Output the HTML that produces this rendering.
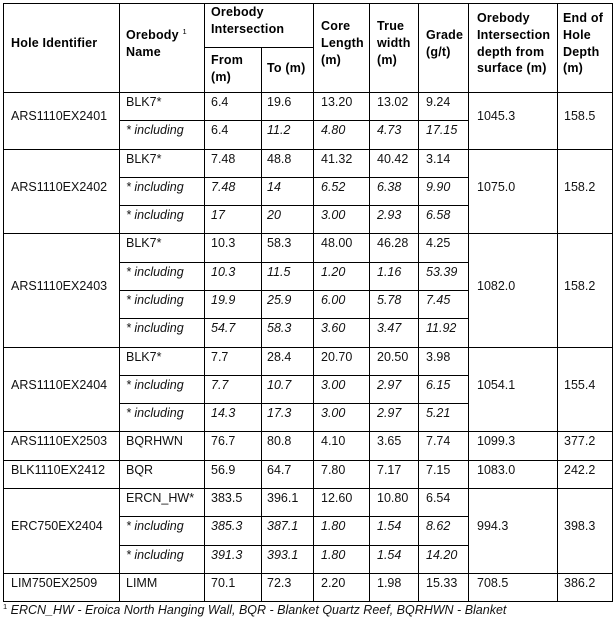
<!DOCTYPE html>
<html>
<head>
<meta charset="utf-8">
<style>
  html, body { margin:0; padding:0; background:#fff; }
  body { width:615px; height:618px; position:relative; overflow:hidden;
         font-family:"Liberation Sans", Arial, sans-serif; color:#111; }
  .h { position:absolute; height:1px; background:#000; }
  .v { position:absolute; width:1px; background:#000; }
  .c { position:absolute; display:flex; align-items:center; box-sizing:border-box;
       padding-bottom:8px; white-space:nowrap; font-size:12.5px; line-height:16.7px; }
  .hd { font-weight:bold; color:#000; letter-spacing:0.2px; }
  .i { font-style:italic; }
  sup.s { font-size:7.5px; vertical-align:5px; line-height:0; font-weight:normal; }
  .fn { position:absolute; left:3px; top:602px; font-size:12.5px; line-height:16.7px;
        font-style:italic; white-space:nowrap; color:#111; }
</style>
</head>
<body>

<!-- Horizontal lines -->
<div class="h" style="left:3px;top:3px;width:610px"></div>
<div class="h" style="left:204px;top:47px;width:110px"></div>
<div class="h" style="left:3px;top:92px;width:610px"></div>
<!-- row boundaries -->
<div class="h" style="left:119px;top:120px;width:350px"></div>
<div class="h" style="left:3px;top:149px;width:610px"></div>
<div class="h" style="left:119px;top:177px;width:350px"></div>
<div class="h" style="left:119px;top:205px;width:350px"></div>
<div class="h" style="left:3px;top:233px;width:610px"></div>
<div class="h" style="left:119px;top:262px;width:350px"></div>
<div class="h" style="left:119px;top:290px;width:350px"></div>
<div class="h" style="left:119px;top:318px;width:350px"></div>
<div class="h" style="left:3px;top:347px;width:610px"></div>
<div class="h" style="left:119px;top:375px;width:350px"></div>
<div class="h" style="left:119px;top:403px;width:350px"></div>
<div class="h" style="left:3px;top:431px;width:610px"></div>
<div class="h" style="left:3px;top:460px;width:610px"></div>
<div class="h" style="left:3px;top:488px;width:610px"></div>
<div class="h" style="left:119px;top:516px;width:350px"></div>
<div class="h" style="left:119px;top:545px;width:350px"></div>
<div class="h" style="left:3px;top:573px;width:610px"></div>
<div class="h" style="left:3px;top:601px;width:610px"></div>

<!-- Vertical lines -->
<div class="v" style="left:3px;top:3px;height:599px"></div>
<div class="v" style="left:119px;top:3px;height:599px"></div>
<div class="v" style="left:204px;top:3px;height:599px"></div>
<div class="v" style="left:261px;top:47px;height:555px"></div>
<div class="v" style="left:313px;top:3px;height:599px"></div>
<div class="v" style="left:369px;top:3px;height:599px"></div>
<div class="v" style="left:418px;top:3px;height:599px"></div>
<div class="v" style="left:468px;top:3px;height:599px"></div>
<div class="v" style="left:557px;top:3px;height:599px"></div>
<div class="v" style="left:612px;top:3px;height:599px"></div>

<!-- Header -->
<div class="c hd" style="left:11px;top:3px;height:89px">Hole Identifier</div>
<div class="c hd" style="left:126px;top:3px;height:89px"><div>Orebody <sup class="s">1</sup><br>Name</div></div>
<div class="c hd" style="left:211px;top:3px;height:44px"><div>Orebody<br>Intersection</div></div>
<div class="c hd" style="left:211px;top:47px;height:45px;padding-bottom:2px"><div>From<br>(m)</div></div>
<div class="c hd" style="left:267px;top:47px;height:45px;padding-bottom:2px">To (m)</div>
<div class="c hd" style="left:321px;top:3px;height:89px"><div>Core<br>Length<br>(m)</div></div>
<div class="c hd" style="left:377px;top:3px;height:89px"><div>True<br>width<br>(m)</div></div>
<div class="c hd" style="left:426px;top:3px;height:89px"><div>Grade<br>(g/t)</div></div>
<div class="c hd" style="left:477px;top:3px;height:89px"><div>Orebody<br>Intersection<br>depth from<br>surface (m)</div></div>
<div class="c hd" style="left:563px;top:3px;height:89px"><div>End of<br>Hole<br>Depth<br>(m)</div></div>

<!-- Group 1 -->
<div class="c" style="left:11px;top:92px;height:57px">ARS1110EX2401</div>
<div class="c" style="left:477px;top:92px;height:57px">1045.3</div>
<div class="c" style="left:564px;top:92px;height:57px">158.5</div>
<div class="c" style="left:126px;top:92px;height:28px">BLK7*</div>
<div class="c" style="left:211px;top:92px;height:28px">6.4</div>
<div class="c" style="left:267px;top:92px;height:28px">19.6</div>
<div class="c" style="left:321px;top:92px;height:28px">13.20</div>
<div class="c" style="left:377px;top:92px;height:28px">13.02</div>
<div class="c" style="left:426px;top:92px;height:28px">9.24</div>
<div class="c i" style="left:126px;top:120px;height:29px">* including</div>
<div class="c" style="left:211px;top:120px;height:29px">6.4</div>
<div class="c i" style="left:267px;top:120px;height:29px">11.2</div>
<div class="c i" style="left:321px;top:120px;height:29px">4.80</div>
<div class="c i" style="left:377px;top:120px;height:29px">4.73</div>
<div class="c i" style="left:426px;top:120px;height:29px">17.15</div>

<!-- Group 2 -->
<div class="c" style="left:11px;top:149px;height:84px">ARS1110EX2402</div>
<div class="c" style="left:477px;top:149px;height:84px">1075.0</div>
<div class="c" style="left:564px;top:149px;height:84px">158.2</div>
<div class="c" style="left:126px;top:149px;height:28px">BLK7*</div>
<div class="c" style="left:211px;top:149px;height:28px">7.48</div>
<div class="c" style="left:267px;top:149px;height:28px">48.8</div>
<div class="c" style="left:321px;top:149px;height:28px">41.32</div>
<div class="c" style="left:377px;top:149px;height:28px">40.42</div>
<div class="c" style="left:426px;top:149px;height:28px">3.14</div>
<div class="c i" style="left:126px;top:177px;height:28px">* including</div>
<div class="c i" style="left:211px;top:177px;height:28px">7.48</div>
<div class="c i" style="left:267px;top:177px;height:28px">14</div>
<div class="c i" style="left:321px;top:177px;height:28px">6.52</div>
<div class="c i" style="left:377px;top:177px;height:28px">6.38</div>
<div class="c i" style="left:426px;top:177px;height:28px">9.90</div>
<div class="c i" style="left:126px;top:205px;height:28px">* including</div>
<div class="c i" style="left:211px;top:205px;height:28px">17</div>
<div class="c i" style="left:267px;top:205px;height:28px">20</div>
<div class="c i" style="left:321px;top:205px;height:28px">3.00</div>
<div class="c i" style="left:377px;top:205px;height:28px">2.93</div>
<div class="c i" style="left:426px;top:205px;height:28px">6.58</div>

<!-- Group 3 -->
<div class="c" style="left:11px;top:233px;height:114px">ARS1110EX2403</div>
<div class="c" style="left:477px;top:233px;height:114px">1082.0</div>
<div class="c" style="left:564px;top:233px;height:114px">158.2</div>
<div class="c" style="left:126px;top:233px;height:29px">BLK7*</div>
<div class="c" style="left:211px;top:233px;height:29px">10.3</div>
<div class="c" style="left:267px;top:233px;height:29px">58.3</div>
<div class="c" style="left:321px;top:233px;height:29px">48.00</div>
<div class="c" style="left:377px;top:233px;height:29px">46.28</div>
<div class="c" style="left:426px;top:233px;height:29px">4.25</div>
<div class="c i" style="left:126px;top:262px;height:28px">* including</div>
<div class="c i" style="left:211px;top:262px;height:28px">10.3</div>
<div class="c i" style="left:267px;top:262px;height:28px">11.5</div>
<div class="c i" style="left:321px;top:262px;height:28px">1.20</div>
<div class="c i" style="left:377px;top:262px;height:28px">1.16</div>
<div class="c i" style="left:426px;top:262px;height:28px">53.39</div>
<div class="c i" style="left:126px;top:290px;height:28px">* including</div>
<div class="c i" style="left:211px;top:290px;height:28px">19.9</div>
<div class="c i" style="left:267px;top:290px;height:28px">25.9</div>
<div class="c i" style="left:321px;top:290px;height:28px">6.00</div>
<div class="c i" style="left:377px;top:290px;height:28px">5.78</div>
<div class="c i" style="left:426px;top:290px;height:28px">7.45</div>
<div class="c i" style="left:126px;top:318px;height:29px">* including</div>
<div class="c i" style="left:211px;top:318px;height:29px">54.7</div>
<div class="c i" style="left:267px;top:318px;height:29px">58.3</div>
<div class="c i" style="left:321px;top:318px;height:29px">3.60</div>
<div class="c i" style="left:377px;top:318px;height:29px">3.47</div>
<div class="c i" style="left:426px;top:318px;height:29px">11.92</div>

<!-- Group 4 -->
<div class="c" style="left:11px;top:347px;height:84px">ARS1110EX2404</div>
<div class="c" style="left:477px;top:347px;height:84px">1054.1</div>
<div class="c" style="left:564px;top:347px;height:84px">155.4</div>
<div class="c" style="left:126px;top:347px;height:28px">BLK7*</div>
<div class="c" style="left:211px;top:347px;height:28px">7.7</div>
<div class="c" style="left:267px;top:347px;height:28px">28.4</div>
<div class="c" style="left:321px;top:347px;height:28px">20.70</div>
<div class="c" style="left:377px;top:347px;height:28px">20.50</div>
<div class="c" style="left:426px;top:347px;height:28px">3.98</div>
<div class="c i" style="left:126px;top:375px;height:28px">* including</div>
<div class="c i" style="left:211px;top:375px;height:28px">7.7</div>
<div class="c i" style="left:267px;top:375px;height:28px">10.7</div>
<div class="c i" style="left:321px;top:375px;height:28px">3.00</div>
<div class="c i" style="left:377px;top:375px;height:28px">2.97</div>
<div class="c i" style="left:426px;top:375px;height:28px">6.15</div>
<div class="c i" style="left:126px;top:403px;height:28px">* including</div>
<div class="c i" style="left:211px;top:403px;height:28px">14.3</div>
<div class="c i" style="left:267px;top:403px;height:28px">17.3</div>
<div class="c i" style="left:321px;top:403px;height:28px">3.00</div>
<div class="c i" style="left:377px;top:403px;height:28px">2.97</div>
<div class="c i" style="left:426px;top:403px;height:28px">5.21</div>

<!-- Group 5 -->
<div class="c" style="left:11px;top:431px;height:29px">ARS1110EX2503</div>
<div class="c" style="left:126px;top:431px;height:29px">BQRHWN</div>
<div class="c" style="left:211px;top:431px;height:29px">76.7</div>
<div class="c" style="left:267px;top:431px;height:29px">80.8</div>
<div class="c" style="left:321px;top:431px;height:29px">4.10</div>
<div class="c" style="left:377px;top:431px;height:29px">3.65</div>
<div class="c" style="left:426px;top:431px;height:29px">7.74</div>
<div class="c" style="left:477px;top:431px;height:29px">1099.3</div>
<div class="c" style="left:564px;top:431px;height:29px">377.2</div>

<!-- Group 6 -->
<div class="c" style="left:11px;top:460px;height:28px">BLK1110EX2412</div>
<div class="c" style="left:126px;top:460px;height:28px">BQR</div>
<div class="c" style="left:211px;top:460px;height:28px">56.9</div>
<div class="c" style="left:267px;top:460px;height:28px">64.7</div>
<div class="c" style="left:321px;top:460px;height:28px">7.80</div>
<div class="c" style="left:377px;top:460px;height:28px">7.17</div>
<div class="c" style="left:426px;top:460px;height:28px">7.15</div>
<div class="c" style="left:477px;top:460px;height:28px">1083.0</div>
<div class="c" style="left:564px;top:460px;height:28px">242.2</div>

<!-- Group 7 -->
<div class="c" style="left:11px;top:488px;height:85px">ERC750EX2404</div>
<div class="c" style="left:477px;top:488px;height:85px">994.3</div>
<div class="c" style="left:564px;top:488px;height:85px">398.3</div>
<div class="c" style="left:126px;top:488px;height:28px">ERCN_HW*</div>
<div class="c" style="left:211px;top:488px;height:28px">383.5</div>
<div class="c" style="left:267px;top:488px;height:28px">396.1</div>
<div class="c" style="left:321px;top:488px;height:28px">12.60</div>
<div class="c" style="left:377px;top:488px;height:28px">10.80</div>
<div class="c" style="left:426px;top:488px;height:28px">6.54</div>
<div class="c i" style="left:126px;top:516px;height:29px">* including</div>
<div class="c i" style="left:211px;top:516px;height:29px">385.3</div>
<div class="c i" style="left:267px;top:516px;height:29px">387.1</div>
<div class="c i" style="left:321px;top:516px;height:29px">1.80</div>
<div class="c i" style="left:377px;top:516px;height:29px">1.54</div>
<div class="c i" style="left:426px;top:516px;height:29px">8.62</div>
<div class="c i" style="left:126px;top:545px;height:28px">* including</div>
<div class="c i" style="left:211px;top:545px;height:28px">391.3</div>
<div class="c i" style="left:267px;top:545px;height:28px">393.1</div>
<div class="c i" style="left:321px;top:545px;height:28px">1.80</div>
<div class="c i" style="left:377px;top:545px;height:28px">1.54</div>
<div class="c i" style="left:426px;top:545px;height:28px">14.20</div>

<!-- Group 8 -->
<div class="c" style="left:11px;top:573px;height:28px">LIM750EX2509</div>
<div class="c" style="left:126px;top:573px;height:28px">LIMM</div>
<div class="c" style="left:211px;top:573px;height:28px">70.1</div>
<div class="c" style="left:267px;top:573px;height:28px">72.3</div>
<div class="c" style="left:321px;top:573px;height:28px">2.20</div>
<div class="c" style="left:377px;top:573px;height:28px">1.98</div>
<div class="c" style="left:426px;top:573px;height:28px">15.33</div>
<div class="c" style="left:477px;top:573px;height:28px">708.5</div>
<div class="c" style="left:564px;top:573px;height:28px">386.2</div>

<!-- Footnote -->
<div class="fn"><sup class="s" style="font-style:normal">1</sup> ERCN_HW - Eroica North Hanging Wall, BQR - Blanket Quartz Reef, BQRHWN - Blanket</div>

</body>
</html>
